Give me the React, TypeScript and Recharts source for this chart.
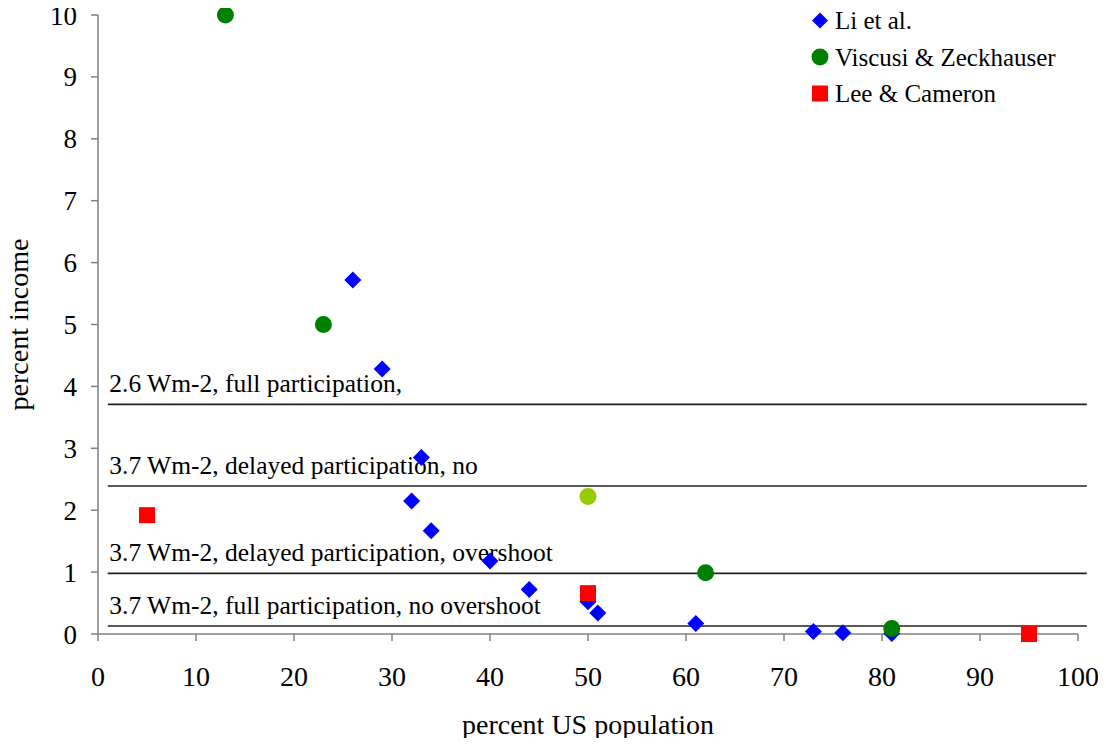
import React from 'react';
import { ScatterChart, Scatter, XAxis, YAxis, ReferenceLine } from 'recharts';

// Li et al.
const liX = [26, 29, 33, 32, 34, 40, 44, 50, 51, 61, 73, 76, 81];
const liY = [5.72, 4.28, 2.85, 2.15, 1.67, 1.18, 0.72, 0.52, 0.34, 0.17, 0.04, 0.02, 0.01];

// Viscusi & Zeckhauser
const vzX = [13, 23, 62, 81];
const vzY = [10, 5.0, 0.99, 0.09];

// lone light-green point (not in legend)
const extraX = [50];
const extraY = [2.22];

// Lee & Cameron
const lcX = [5, 50, 95];
const lcY = [1.92, 0.66, 0.0];

const refLevels = [3.71, 2.39, 0.98, 0.13];
const refLabels = [
  '2.6 Wm-2, full participation,',
  '3.7 Wm-2, delayed participation, no',
  '3.7 Wm-2, delayed participation, overshoot',
  '3.7 Wm-2, full participation, no overshoot',
];

const xTicks = [0, 10, 20, 30, 40, 50, 60, 70, 80, 90, 100];
const yTicks = [0, 1, 2, 3, 4, 5, 6, 7, 8, 9, 10];

const toPoints = (xs: number[], ys: number[]) => xs.map((x, i) => ({ x, y: ys[i] }));

const FONT = 'Liberation Serif';
const BLUE = '#0000ff';
const GREEN = '#008000';
const RED = '#ff0000';
const LIME = '#99cc00';

const Diamond = (props: any) => {
  const { cx, cy } = props;
  const r = 8.5;
  return <polygon points={`${cx},${cy - r} ${cx + r},${cy} ${cx},${cy + r} ${cx - r},${cy}`} fill={BLUE} />;
};

const Dot = (color: string) => (props: any) => <circle cx={props.cx} cy={props.cy} r={8.5} fill={color} />;

const Square = (props: any) => {
  const { cx, cy } = props;
  return <rect x={cx - 8} y={cy - 8} width={16} height={16} fill={RED} />;
};

const XTick = (props: any) => {
  const { x, y, payload } = props;
  return (
    <text x={x} y={y + 39} textAnchor="middle" fill="#000" fontSize={28} fontFamily={FONT}>
      {payload.value}
    </text>
  );
};

const YTick = (props: any) => {
  const { x, y, payload } = props;
  return (
    <text x={x - 8} y={y + 9.5} textAnchor="end" fill="#000" fontSize={27} fontFamily={FONT}>
      {payload.value}
    </text>
  );
};

const RefLabel = (props: any) => {
  const { viewBox, text } = props;
  if (!viewBox) return null;
  return (
    <text x={viewBox.x + 1.5} y={viewBox.y - 12} fill="#000" fontSize={25.5} fontFamily={FONT}>
      {text}
    </text>
  );
};

const legendItems = [
  { name: 'Li et al.', kind: 'diamond', color: BLUE },
  { name: 'Viscusi & Zeckhauser', kind: 'circle', color: GREEN },
  { name: 'Lee & Cameron', kind: 'square', color: RED },
];

function LegendBox() {
  return (
    <svg width={300} height={120} style={{ position: 'absolute', left: 800, top: 0 }}>
      {legendItems.map((it, i) => {
        const cy = 20.5 + i * 36.5;
        return (
          <g key={it.name}>
            {it.kind === 'diamond' && <polygon points={`20,${cy - 8} 28,${cy} 20,${cy + 8} 12,${cy}`} fill={it.color} />}
            {it.kind === 'circle' && <circle cx={20} cy={cy} r={8.5} fill={it.color} />}
            {it.kind === 'square' && <rect x={12} y={cy - 8} width={16} height={16} fill={it.color} />}
            <text x={35} y={cy + 8.5} fill="#000" fontSize={25} fontFamily={FONT}>
              {it.name}
            </text>
          </g>
        );
      })}
    </svg>
  );
}

export default function App() {
  const axisStroke = '#808080';
  return (
    <div style={{ position: 'relative', margin: -8, width: 1106, height: 746 }}>
      <ScatterChart width={1106} height={746} margin={{ top: 15, right: 28, bottom: 0, left: 0 }}>
        <XAxis
          type="number"
          dataKey="x"
          domain={[0, 100]}
          ticks={xTicks}
          tickSize={7}
          tickMargin={6}
          height={112}
          axisLine={{ stroke: axisStroke, strokeWidth: 1.5 }}
          tickLine={{ stroke: axisStroke, strokeWidth: 1.5 }}
          tick={<XTick />}
          label={{ value: 'percent US population', position: 'insideBottom', offset: 12, fill: '#000', fontSize: 28, fontFamily: FONT }}
        />
        <YAxis
          type="number"
          dataKey="y"
          domain={[0, 10]}
          ticks={yTicks}
          width={98}
          tickSize={7}
          tickMargin={6}
          axisLine={{ stroke: axisStroke, strokeWidth: 1.5 }}
          tickLine={{ stroke: axisStroke, strokeWidth: 1.5 }}
          tick={<YTick />}
          label={{ value: 'percent income', angle: -90, position: 'insideLeft', offset: 18, fill: '#000', fontSize: 28, fontFamily: FONT, style: { textAnchor: 'middle' } }}
        />
        {refLevels.map((v, i) => (
          <ReferenceLine
            key={v}
            segment={[{ x: 1, y: v }, { x: 100.9, y: v }]}
            stroke="#222"
            strokeWidth={1.6}
            ifOverflow="visible"
            label={<RefLabel text={refLabels[i]} />}
          />
        ))}
        <Scatter data={toPoints(liX, liY)} shape={Diamond} isAnimationActive={false} />
        <Scatter data={toPoints(vzX, vzY)} shape={Dot(GREEN)} isAnimationActive={false} />
        <Scatter data={toPoints(extraX, extraY)} shape={Dot(LIME)} isAnimationActive={false} />
        <Scatter data={toPoints(lcX, lcY)} shape={Square} isAnimationActive={false} />
      </ScatterChart>
      <LegendBox />
    </div>
  );
}
